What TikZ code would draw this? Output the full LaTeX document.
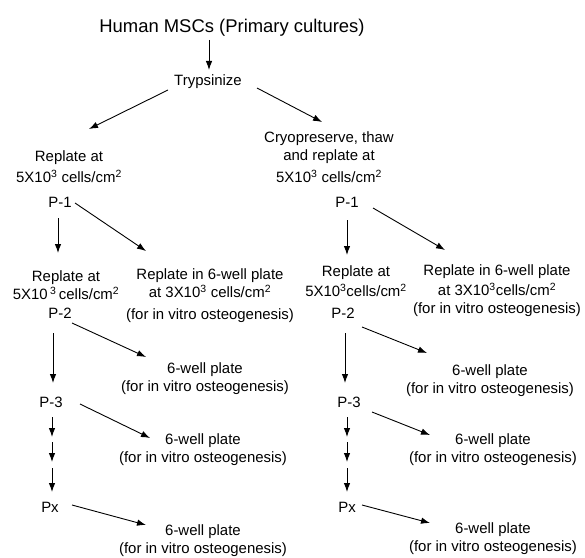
\documentclass[tikz,border=0pt]{standalone}
\usepackage{fontspec}
\setmainfont{Liberation Sans}
\usetikzlibrary{arrows.meta,positioning}

\begin{document}
\begin{tikzpicture}[
        x=1bp, y=-1bp,
        >={Latex[length=9bp,width=6.5bp]},
        line width=0.9pt,
        font=\fontsize{15}{18}\selectfont,
        % multi-line label
        lbl/.style={align=center, inner sep=0pt},
        % passage label
        pass/.style={inner sep=0pt},
        % connector
        arr/.style={->}
    ]

        \useasboundingbox (0,0) rectangle (585,558);

        % ====================
        % top
        % ====================
        \node[pass, font=\fontsize{18.5}{22}\selectfont] (title) at (232,28) {Human MSCs (Primary cultures)};
        \node[pass] (tryp) at (208,82) {Trypsinize};

        % ====================
        % left branch
        % ====================
        \node[lbl] (repL) at (69,167) {Replate at\\[3bp]5X10\textsuperscript{3} cells/cm\textsuperscript{2}};
        \node[pass] (p1L) at (60,202) {P-1};
        \node[lbl] (rep2L) at (66,285) {Replate at\\5X10\,\textsuperscript{3}\,cells/cm\textsuperscript{2}};
        \node[lbl] (side1L) at (210,296) {Replate in 6-well plate\\at 3X10\textsuperscript{3} cells/cm\textsuperscript{2}\\[4bp](for in vitro osteogenesis)};
        \node[pass] (p2L) at (60,313) {P-2};
        \node[lbl] (plate2L) at (205,379) {6-well plate\\(for in vitro osteogenesis)};
        \node[pass] (p3L) at (51,402) {P-3};
        \node[lbl] (plate3L) at (203,450) {6-well plate\\(for in vitro osteogenesis)};
        \node[pass] (pxL) at (50,507) {Px};
        \node[lbl] (plate4L) at (203,541) {6-well plate\\(for in vitro osteogenesis)};
        \coordinate (m1L) at (52,440);
        \coordinate (m2L) at (52,465);

        % ====================
        % right branch
        % ====================
        \node[lbl] (cryo) at (329,157) {Cryopreserve, thaw\\and replate at\\[4bp]5X10\textsuperscript{3} cells/cm\textsuperscript{2}};
        \node[pass] (p1R) at (347,202) {P-1};
        \node[lbl] (rep2R) at (356,281) {Replate at\\[2bp]5X10\textsuperscript{3}cells/cm\textsuperscript{2}};
        \node[lbl] (side1R) at (497,291) {Replate in 6-well plate\\[2bp]at 3X10\textsuperscript{3}cells/cm\textsuperscript{2}\\(for in vitro osteogenesis)};
        \node[pass] (p2R) at (343,313) {P-2};
        \node[lbl] (plate2R) at (490,381) {6-well plate\\(for in vitro osteogenesis)};
        \node[pass] (p3R) at (349,402) {P-3};
        \node[lbl] (plate3R) at (493,450) {6-well plate\\(for in vitro osteogenesis)};
        \node[pass] (pxR) at (347,507) {Px};
        \node[lbl] (plate4R) at (493,539) {6-well plate\\(for in vitro osteogenesis)};
        \coordinate (m1R) at (347,440);
        \coordinate (m2R) at (347,465);

        % ====================
        % connectors
        % ====================
        \draw[arr] ([shift={(-23,12)}]title.center) -- ([shift={(1,-12)}]tryp.center);
        \draw[arr] ([shift={(-40,8)}]tryp.center) -- ([shift={(20,-38)}]repL.center);
        \draw[arr] ([shift={(49,6)}]tryp.center) -- ([shift={(-7,-35)}]cryo.center);

        % left
        \draw[arr] ([shift={(-2,16)}]p1L.center) -- ([shift={(-8,-32)}]rep2L.center);
        \draw[arr] ([shift={(15,1)}]p1L.center) -- ([shift={(-64,-45)}]side1L.center);
        \draw[arr] ([shift={(12,10)}]p2L.center) -- ([shift={(-59,-22)}]plate2L.center);
        \draw[arr] ([shift={(-7,20)}]p2L.center) -- ([shift={(2,-19)}]p3L.center);
        \draw[arr] ([shift={(29,2)}]p3L.center) -- ([shift={(-53,-12)}]plate3L.center);
        \draw[arr] ([shift={(1,15)}]p3L.center) -- ([yshift=3bp]m1L);
        \draw[arr] ([yshift=-2bp]m1L) -- ([yshift=3bp]m2L);
        \draw[arr] ([yshift=-3bp]m2L) -- ([shift={(2,-15)}]pxL.center);
        \draw[arr] ([shift={(22,-2)}]pxL.center) -- ([shift={(-57,-16)}]plate4L.center);

        % right
        \draw[arr] ([shift={(0,18)}]p1R.center) -- ([shift={(-9,-26)}]rep2R.center);
        \draw[arr] ([shift={(26,6)}]p1R.center) -- ([shift={(-52,-41)}]side1R.center);
        \draw[arr] ([shift={(19,14)}]p2R.center) -- ([shift={(-63,-28)}]plate2R.center);
        \draw[arr] ([shift={(2,20)}]p2R.center) -- ([shift={(-4,-19)}]p3R.center);
        \draw[arr] ([shift={(23,10)}]p3R.center) -- ([shift={(-63,-15)}]plate3R.center);
        \draw[arr] ([shift={(-2,15)}]p3R.center) -- ([yshift=3bp]m1R);
        \draw[arr] ([yshift=-2bp]m1R) -- ([yshift=3bp]m2R);
        \draw[arr] ([yshift=-3bp]m2R) -- ([shift={(0,-15)}]pxR.center);
        \draw[arr] ([shift={(15,-2)}]pxR.center) -- ([shift={(-63,-16)}]plate4R.center);

    \end{tikzpicture}
\end{document}
